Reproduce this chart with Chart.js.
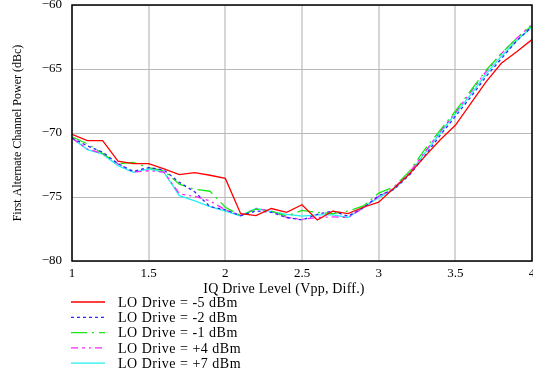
<!DOCTYPE html>
<html>
<head>
<meta charset="utf-8">
<script src="https://cdn.jsdelivr.net/npm/chart.js@4"></script>
<style>
  html, body { margin: 0; padding: 0; background: #fff; }
  #wrap { width: 533px; height: 372px; position: relative; }
</style>
</head>
<body>
<div id="wrap"><canvas id="chart" width="533" height="372"></canvas></div>
<script>
// --- data ---
const driveLevels = [1.0, 1.1, 1.2, 1.3, 1.4, 1.5, 1.6, 1.7, 1.8, 1.9, 2.0,
                     2.1, 2.2, 2.3, 2.4, 2.5, 2.6, 2.7, 2.8, 2.9, 3.0,
                     3.1, 3.2, 3.3, 3.4, 3.5, 3.6, 3.7, 3.8, 3.9, 4.0];

const loMinus5 = [-70.1, -70.6, -70.6, -72.2, -72.4, -72.4, -72.8, -73.25, -73.1, -73.3, -73.55,
                  -76.3, -76.45, -75.9, -76.2, -75.6, -76.8, -76.1, -76.3, -75.8, -75.4,
                  -74.3, -73.2, -71.85, -70.55, -69.4, -67.7, -66.0, -64.55, -63.65, -62.7];
const loMinus2 = [-70.4, -71.0, -71.5, -72.4, -73.0, -72.7, -72.9, -73.85, -74.6, -75.75, -76.0,
                  -76.45, -76.1, -76.2, -76.6, -76.8, -76.35, -76.1, -76.5, -75.85, -74.9,
                  -74.4, -73.3, -71.8, -70.2, -68.7, -67.2, -65.6, -64.2, -62.8, -61.7];
const loMinus1 = [-70.3, -70.85, -71.6, -72.4, -72.3, -72.7, -72.95, -74.0, -74.4, -74.55, -75.8,
                  -76.45, -75.95, -76.1, -76.5, -76.05, -76.2, -76.3, -76.1, -75.7, -74.7,
                  -74.2, -73.0, -71.3, -69.8, -68.3, -66.7, -65.1, -63.8, -62.6, -61.6];
const loPlus4  = [-70.4, -71.25, -71.6, -72.4, -73.05, -72.95, -73.05, -74.75, -74.95, -75.3, -76.0,
                  -76.45, -75.9, -76.1, -76.6, -76.75, -76.6, -76.55, -76.6, -75.85, -74.95,
                  -74.3, -73.1, -71.5, -69.9, -68.4, -66.8, -65.2, -63.8, -62.6, -61.5];
const loPlus7  = [-70.4, -71.3, -71.65, -72.55, -73.07, -72.8, -73.07, -74.9, -75.3, -75.75, -76.1,
                  -76.48, -75.9, -76.15, -76.35, -76.5, -76.4, -76.4, -76.6, -75.8, -75.05,
                  -74.4, -73.2, -71.6, -70.0, -68.5, -67.0, -65.4, -64.0, -62.8, -61.7];

const seriesLabels = ['LO Drive = -5 dBm', 'LO Drive = -2 dBm', 'LO Drive = -1 dBm',
                      'LO Drive = +4 dBm', 'LO Drive = +7 dBm'];
const seriesValues = [loMinus5, loMinus2, loMinus1, loPlus4, loPlus7];
const seriesColors = ['#ff0000', '#2a2aff', '#18e818', '#ff22ff', '#22f0f0'];
const seriesDashes = [[], [3, 3], [16, 5, 2, 5], [7, 4, 3, 4, 2, 4], []];

const xTicks = [1, 1.5, 2, 2.5, 3, 3.5, 4];
const yTicks = [-80, -75, -70, -65, -60];

const FONT = '"Liberation Serif", "Times New Roman", serif';

const datasets = seriesValues.map((vals, i) => ({
    label: seriesLabels[i],
    data: vals.map((v, j) => ({ x: driveLevels[j], y: v })),
    borderColor: seriesColors[i],
    borderDash: seriesDashes[i],
    borderWidth: 1.3,
    pointRadius: 0,
    tension: 0,
    fill: false
}));

// frame, x title and legend drawn by hand
const decorPlugin = {
    id: 'decor',
    afterDraw(chart) {
        const ctx = chart.ctx;
        const a = chart.chartArea;
        ctx.save();
        ctx.strokeStyle = '#000';
        ctx.lineWidth = 1.5;
        ctx.strokeRect(a.left, a.top, a.right - a.left, a.bottom - a.top);

        ctx.fillStyle = '#000';
        ctx.font = '14px ' + FONT;
        ctx.letterSpacing = '0.2px';
        ctx.textAlign = 'center';
        ctx.textBaseline = 'middle';
        ctx.fillText('IQ Drive Level (Vpp, Diff.)', 284, 289);

        ctx.textAlign = 'left';
        ctx.letterSpacing = '0.5px';
        seriesLabels.forEach((lbl, i) => {
            const y = 302 + i * 15.3;
            ctx.beginPath();
            ctx.strokeStyle = seriesColors[i];
            ctx.lineWidth = 1.3;
            ctx.setLineDash(seriesDashes[i]);
            ctx.moveTo(71, y);
            ctx.lineTo(105, y);
            ctx.stroke();
            ctx.setLineDash([]);
            ctx.fillStyle = '#000';
            ctx.fillText(lbl, 118, y + 1);
        });
        ctx.restore();
    }
};

new Chart(document.getElementById('chart'), {
    type: 'line',
    data: { datasets: datasets },
    options: {
        responsive: false,
        animation: false,
        layout: { padding: { left: 0, right: 1, top: 5, bottom: 0 } },
        plugins: { legend: { display: false }, tooltip: { enabled: false } },
        scales: {
            x: {
                type: 'linear',
                min: 1, max: 4,
                afterBuildTicks: s => { s.ticks = xTicks.map(v => ({ value: v })); },
                afterFit: s => { s.height = 111; s.paddingLeft = 0; s.paddingRight = 0; },
                grid: { color: '#d6d6d6', lineWidth: 2, drawTicks: false },
                border: { display: false },
                ticks: {
                    color: '#000', padding: 5, maxRotation: 0,
                    font: { family: FONT, size: 13 },
                    callback: v => String(v)
                }
            },
            y: {
                type: 'linear',
                min: -80, max: -60,
                afterBuildTicks: s => { s.ticks = yTicks.map(v => ({ value: v })); },
                afterFit: s => { s.width = 72; s.paddingTop = 0; s.paddingBottom = 0; },
                grid: { color: '#b8b8b8', lineWidth: 1, drawTicks: false },
                border: { display: false },
                ticks: {
                    color: '#000', padding: 10,
                    font: { family: FONT, size: 13 },
                    callback: v => '\u2212' + Math.abs(v)
                },
                title: {
                    display: true,
                    text: 'First Alternate Channel Power (dBc)',
                    color: '#000',
                    font: { family: FONT, size: 12 },
                    padding: { top: 11, bottom: 4 }
                }
            }
        }
    },
    plugins: [decorPlugin]
});
</script>
</body>
</html>
